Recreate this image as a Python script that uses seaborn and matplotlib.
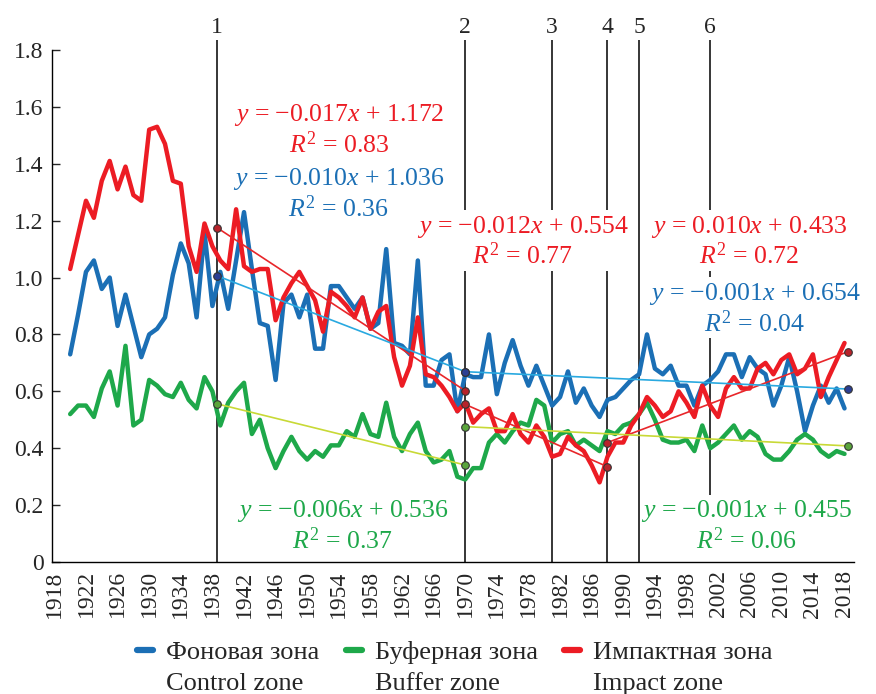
import numpy as np
import pandas as pd
import matplotlib.pyplot as plt
import seaborn as sns
from matplotlib.lines import Line2D

# annual values, 1920-2018
years = list(range(1920, 2019))

control = [0.73, 0.87, 1.02, 1.06, 0.96, 1.00, 0.83, 0.94, 0.83, 0.72,
           0.80, 0.82, 0.86, 1.01, 1.12, 1.05, 0.86, 1.16, 0.90, 1.02,
           0.89, 1.06, 1.23, 1.03, 0.84, 0.83, 0.64, 0.91, 0.94, 0.86,
           0.94, 0.75, 0.75, 0.97, 0.97, 0.93, 0.89, 0.93, 0.82, 0.84,
           1.10, 0.77, 0.76, 0.73, 1.06, 0.62, 0.62, 0.71, 0.73, 0.53,
           0.66, 0.65, 0.65, 0.80, 0.59, 0.70, 0.78, 0.69, 0.62, 0.69,
           0.62, 0.55, 0.58, 0.67, 0.56, 0.61, 0.55, 0.51, 0.57, 0.58,
           0.61, 0.64, 0.66, 0.80, 0.68, 0.66, 0.69, 0.62, 0.62, 0.55,
           0.62, 0.64, 0.67, 0.73, 0.73, 0.65, 0.72, 0.68, 0.66, 0.55,
           0.62, 0.72, 0.60, 0.46, 0.55, 0.62, 0.56, 0.61, 0.54]

buffer = [0.52, 0.55, 0.55, 0.51, 0.61, 0.67, 0.55, 0.76, 0.48, 0.50,
          0.64, 0.62, 0.59, 0.58, 0.63, 0.57, 0.54, 0.65, 0.60, 0.48,
          0.56, 0.60, 0.63, 0.45, 0.50, 0.40, 0.33, 0.39, 0.44, 0.39,
          0.36, 0.39, 0.37, 0.41, 0.41, 0.46, 0.44, 0.52, 0.45, 0.44,
          0.56, 0.44, 0.39, 0.45, 0.49, 0.39, 0.35, 0.36, 0.39, 0.30,
          0.29, 0.33, 0.33, 0.42, 0.45, 0.42, 0.46, 0.49, 0.48, 0.57,
          0.55, 0.42, 0.45, 0.46, 0.41, 0.43, 0.41, 0.39, 0.46, 0.45,
          0.48, 0.49, 0.52, 0.56, 0.50, 0.43, 0.42, 0.42, 0.43, 0.39,
          0.48, 0.40, 0.42, 0.45, 0.48, 0.43, 0.46, 0.44, 0.38, 0.36,
          0.36, 0.39, 0.43, 0.45, 0.43, 0.39, 0.37, 0.39, 0.38]

impact = [1.03, 1.15, 1.27, 1.21, 1.34, 1.41, 1.31, 1.39, 1.29, 1.27,
          1.52, 1.53, 1.47, 1.34, 1.33, 1.11, 1.02, 1.19, 1.11, 1.06,
          1.03, 1.24, 1.04, 1.02, 1.03, 1.03, 0.85, 0.93, 0.98, 1.02,
          0.97, 0.92, 0.81, 0.95, 0.93, 0.90, 0.86, 0.93, 0.82, 0.88,
          0.90, 0.72, 0.62, 0.69, 0.86, 0.66, 0.65, 0.62, 0.58, 0.53,
          0.56, 0.49, 0.52, 0.54, 0.46, 0.46, 0.52, 0.45, 0.42, 0.48,
          0.44, 0.37, 0.38, 0.44, 0.41, 0.39, 0.34, 0.28, 0.37, 0.42,
          0.42, 0.48, 0.52, 0.58, 0.55, 0.51, 0.53, 0.60, 0.56, 0.51,
          0.62, 0.55, 0.51, 0.61, 0.65, 0.61, 0.61, 0.68, 0.70, 0.66,
          0.71, 0.73, 0.66, 0.68, 0.73, 0.58, 0.65, 0.71, 0.77]

zones_ru = ['Фоновая зона', 'Буферная зона', 'Импактная зона']
zones_en = ['Control zone', 'Buffer zone', 'Impact zone']
zone_colors = ['#1b6fb5', '#1ea84a', '#ec1c24']

# period boundaries (vertical lines) and their numbers
periods = [1938.6, 1970, 1981, 1988, 1992, 2001]
period_labels = ['1', '2', '3', '4', '5', '6']
period_bottom = [0, 0, 0, 0, 0, 0.236]

# trend segments: zone index, start year, end year, start value, end value
trend_zone = [2, 2, 2, 0, 0, 1, 1]
trend_x0 = [1938.6, 1970, 1988, 1938.6, 1970, 1938.6, 1970]
trend_x1 = [1970, 1988, 2018.5, 1970, 2018.5, 1970, 2018.5]
trend_y0 = [1.175, 0.554, 0.420, 1.006, 0.669, 0.556, 0.476]
trend_y1 = [0.602, 0.335, 0.740, 0.669, 0.608, 0.341, 0.408]
# per zone: control, buffer, impact
trend_colors = ['#29a9e0', '#c8d936', '#e8262a']
dot_colors = ['#2b3f94', '#5aa53c', '#b8232b']

# trend equations
eq_texts = ['$y$ = −0.017$x$ + 1.172\n$R^{\\mathrm{2}}$ = 0.83',
            '$y$ = −0.010$x$ + 1.036\n$R^{\\mathrm{2}}$ = 0.36',
            '$y$ = −0.012$x$ + 0.554\n$R^{\\mathrm{2}}$ = 0.77',
            '$y$ = 0.010$x$ + 0.433\n$R^{\\mathrm{2}}$ = 0.72',
            '$y$ = −0.001$x$ + 0.654\n$R^{\\mathrm{2}}$ = 0.04',
            '$y$ = −0.006$x$ + 0.536\n$R^{\\mathrm{2}}$ = 0.37',
            '$y$ = −0.001$x$ + 0.455\n$R^{\\mathrm{2}}$ = 0.06']
eq_zone = [2, 0, 2, 2, 0, 1, 1]
eq_x = [1954.0, 1954.0, 1977.3, 2005.9, 2006.6, 1954.5, 2005.6]
eq_y = [1.519, 1.294, 1.127, 1.127, 0.891, 0.127, 0.127]
eq_boxed = [False, False, True, True, True, False, True]

yticks = [0, 0.2, 0.4, 0.6, 0.8, 1.0, 1.2, 1.4, 1.6, 1.8]
ytick_labels = ['0', '0.2', '0.4', '0.6', '0.8', '1.0', '1.2', '1.4', '1.6', '1.8']
xticks = list(range(1918, 2019, 4))

sns.set_style('white')
plt.rcParams['font.family'] = ['Liberation Serif', 'DejaVu Serif']
plt.rcParams['mathtext.fontset'] = 'custom'
plt.rcParams['mathtext.rm'] = 'Liberation Serif'
plt.rcParams['mathtext.it'] = 'Liberation Serif:italic'

df = pd.DataFrame({
    'year': years * 3,
    'value': control + buffer + impact,
    'zone': [zones_ru[0]] * len(years) + [zones_ru[1]] * len(years) + [zones_ru[2]] * len(years),
})

fig = plt.figure(figsize=(8.76, 6.94), dpi=100)
ax = fig.add_axes([52 / 876, 1 - 562 / 694, 802 / 876, 512 / 694])

sns.lineplot(data=df, x='year', y='value', hue='zone', hue_order=zones_ru,
             palette=dict(zip(zones_ru, zone_colors)), lw=3.2, legend=False,
             ax=ax, zorder=2)

# period lines sit under the equation boxes, which sit under the data
ax.vlines(periods, period_bottom, 1.835, colors='black', lw=1.1,
          zorder=1.5, clip_on=False)
for xp, lab in zip(periods, period_labels):
    ax.text(xp, 1.88, lab, ha='center', va='center', fontsize=17, clip_on=False)

for z, x0, x1, y0, y1 in zip(trend_zone, trend_x0, trend_x1, trend_y0, trend_y1):
    ax.plot([x0, x1], [y0, y1], color=trend_colors[z], lw=1.2, zorder=3,
            clip_on=False)
    ax.scatter([x0, x1], [y0, y1], s=30, color=dot_colors[z],
               edgecolor='#333333', linewidth=0.8, zorder=4, clip_on=False)

for txt, z, xe, ye, boxed in zip(eq_texts, eq_zone, eq_x, eq_y, eq_boxed):
    box = dict(fc='white', ec='none', pad=1) if boxed else None
    ax.text(xe, ye, txt, color=zone_colors[z], fontsize=18.5, ha='center',
            va='center', multialignment='center', linespacing=1.15, zorder=1.8,
            bbox=box)

ax.set_xlim(1917.7, 2019.2)
ax.set_ylim(0, 1.8)
ax.set_yticks(yticks)
ax.set_yticklabels(ytick_labels)
ax.set_xticks(xticks)
ax.set_xticklabels([str(t) for t in xticks], rotation=90)
ax.tick_params(axis='y', direction='in', length=6, width=1, labelsize=17,
               pad=6, left=True)
ax.tick_params(axis='x', length=0, labelsize=17, pad=6)
ax.set_xlabel('')
ax.set_ylabel('')
sns.despine(ax=ax)
for sp in ['left', 'bottom']:
    ax.spines[sp].set_color('black')
    ax.spines[sp].set_linewidth(1.0)

handles, labels = [], []
for ru, en, c in zip(zones_ru, zones_en, zone_colors):
    handles.append(Line2D([], [], color=c, lw=4.5))
    labels.append(ru)
    handles.append(Line2D([], [], color='none', lw=4.5))
    labels.append(en)
fig.legend(handles, labels, ncol=3, loc='center',
           bbox_to_anchor=(455 / 876, 1 - 668 / 694), frameon=False,
           fontsize=19, handlelength=0.6, handletextpad=0.5,
           columnspacing=1.0, labelspacing=0.3, borderpad=0)

fig.savefig('out.png', dpi=100)
